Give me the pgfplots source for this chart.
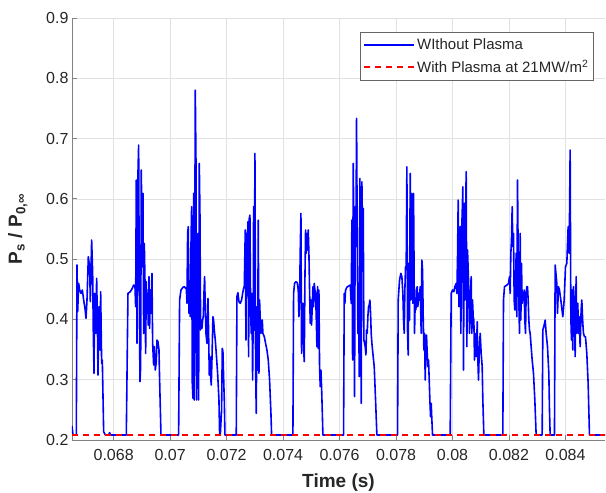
\documentclass[border=0pt]{standalone}
\usepackage{fontspec}
\setmainfont{Liberation Sans}
\usepackage{pgfplots}
\pgfplotsset{compat=1.18}
\definecolor{tickgray}{RGB}{38,38,38}
\definecolor{gridgray}{RGB}{225,225,225}
\definecolor{axgray}{RGB}{130,130,130}
\definecolor{mblue}{RGB}{0,0,255}
\definecolor{mred}{RGB}{255,0,0}
\begin{document}
\begin{tikzpicture}
\begin{axis}[
  width=533pt, height=422pt, scale only axis,
  xmin=0.066525, xmax=0.0854, ymin=0.2, ymax=0.9,
  axis x line*=bottom, axis y line*=left,
  xtick pos=left, ytick pos=left,
  tick align=inside, major tick length=5pt,
  axis line style={axgray, line width=0.8pt},
  tick style={axgray, line width=0.8pt},
  grid=major, grid style={gridgray, line width=0.6pt},
  scaled x ticks=false, scaled y ticks=false,
  xtick={0.068,0.070,0.072,0.074,0.076,0.078,0.080,0.082,0.084},
  xticklabels={0.068,0.07,0.072,0.074,0.076,0.078,0.08,0.082,0.084},
  ytick={0.2,0.3,0.4,0.5,0.6,0.7,0.8,0.9},
  yticklabels={0.2,0.3,0.4,0.5,0.6,0.7,0.8,0.9},
  tick label style={text=tickgray, font=\fontsize{16}{19}\selectfont},
  xticklabel shift=6pt,
  xlabel={Time (s)},
  ylabel={P\textsubscript{s} / P\textsubscript{0,∞}},
  xlabel shift=6pt,
  ylabel shift=12pt,
  label style={text=tickgray, font=\bfseries\fontsize{19}{22}\selectfont},
  legend style={at={(0.979,0.967)}, anchor=north east, draw=black!60, line width=0.6pt, fill=white,
    font=\fontsize{15}{18}\selectfont, text=tickgray, inner xsep=3pt, inner ysep=2pt,
    nodes={inner ysep=4.5pt}},
  legend cell align=left,
  legend image code/.code={\draw[#1] (0pt,0pt) -- (50pt,0pt);},
]
\addplot[mblue, line width=1.6pt, line join=round] table {
0.066525 0.2232
0.066560 0.2083
0.066678 0.2083
0.066702 0.4902
0.066726 0.4128
0.066761 0.4598
0.066796 0.4488
0.066844 0.4432
0.066891 0.4488
0.066938 0.4322
0.066985 0.4184
0.067021 0.4018
0.067056 0.4322
0.067103 0.5040
0.067150 0.4874
0.067174 0.4294
0.067221 0.5317
0.067257 0.4764
0.067280 0.3769
0.067304 0.3106
0.067327 0.4432
0.067363 0.3769
0.067398 0.4681
0.067422 0.4045
0.067445 0.3078
0.067481 0.4211
0.067516 0.3493
0.067540 0.4460
0.067575 0.3271
0.067599 0.3327
0.067646 0.2138
0.067705 0.2083
0.067823 0.2083
0.067858 0.2122
0.067882 0.2083
0.068448 0.2083
0.068507 0.4432
0.068590 0.4460
0.068661 0.4515
0.068708 0.4570
0.068755 0.4554
0.068779 0.4211
0.068802 0.6312
0.068826 0.3603
0.068850 0.6201
0.068885 0.6892
0.068909 0.4322
0.068932 0.2967
0.068956 0.3216
0.068979 0.6478
0.069015 0.4874
0.069038 0.6091
0.069062 0.3769
0.069086 0.5261
0.069109 0.4653
0.069133 0.3437
0.069156 0.4626
0.069180 0.4101
0.069204 0.4432
0.069227 0.3907
0.069251 0.4709
0.069274 0.3852
0.069298 0.4488
0.069322 0.4101
0.069357 0.4764
0.069381 0.3603
0.069416 0.3244
0.069440 0.3548
0.069475 0.3161
0.069510 0.3299
0.069534 0.3658
0.069569 0.3631
0.069605 0.3493
0.069628 0.2995
0.069676 0.2083
0.070301 0.2083
0.070336 0.4322
0.070384 0.4488
0.070454 0.4532
0.070502 0.4543
0.070549 0.4515
0.070572 0.4532
0.070596 0.4267
0.070620 0.5427
0.070643 0.5538
0.070667 0.4101
0.070690 0.4488
0.070714 0.4045
0.070738 0.5206
0.070761 0.5870
0.070785 0.2940
0.070808 0.2691
0.070832 0.6091
0.070856 0.2663
0.070891 0.7804
0.070915 0.6643
0.070938 0.2663
0.070962 0.4156
0.070985 0.5427
0.071009 0.2663
0.071033 0.6588
0.071056 0.5759
0.071080 0.3824
0.071103 0.3990
0.071127 0.3852
0.071151 0.3990
0.071174 0.4045
0.071198 0.4432
0.071221 0.4709
0.071245 0.4211
0.071269 0.3769
0.071304 0.3603
0.071339 0.4349
0.071363 0.3769
0.071387 0.3078
0.071410 0.3382
0.071434 0.3050
0.071457 0.2912
0.071481 0.3327
0.071516 0.4045
0.071540 0.3990
0.071564 0.3824
0.071599 0.3658
0.071634 0.3437
0.071682 0.3106
0.071729 0.2663
0.071752 0.2111
0.071776 0.2083
0.071823 0.2498
0.071847 0.3520
0.071870 0.3465
0.071894 0.3050
0.071918 0.2663
0.071941 0.2083
0.072342 0.2083
0.072366 0.4377
0.072401 0.4443
0.072437 0.4294
0.072484 0.4267
0.072531 0.4322
0.072578 0.4460
0.072602 0.4515
0.072626 0.4543
0.072661 0.5483
0.072685 0.3658
0.072708 0.5427
0.072732 0.4930
0.072755 0.5621
0.072779 0.3382
0.072803 0.5676
0.072826 0.5731
0.072850 0.4156
0.072873 0.3769
0.072897 0.4432
0.072921 0.2995
0.072944 0.4156
0.072956 0.5870
0.072980 0.3824
0.073003 0.6754
0.073027 0.3216
0.073050 0.2442
0.073074 0.4211
0.073098 0.3161
0.073121 0.5648
0.073145 0.3106
0.073168 0.4322
0.073192 0.3990
0.073216 0.3769
0.073239 0.3935
0.073263 0.3990
0.073286 0.3769
0.073334 0.3714
0.073381 0.3603
0.073428 0.3493
0.073475 0.3327
0.073522 0.2995
0.073570 0.2442
0.073593 0.2083
0.074348 0.2083
0.074372 0.4432
0.074407 0.4598
0.074455 0.4626
0.074502 0.4609
0.074537 0.4488
0.074561 0.4045
0.074584 0.4322
0.074608 0.5151
0.074632 0.5759
0.074655 0.3437
0.074679 0.4267
0.074702 0.4267
0.074726 0.3548
0.074750 0.3299
0.074773 0.4653
0.074797 0.5483
0.074820 0.5096
0.074844 0.5427
0.074868 0.5151
0.074891 0.5483
0.074915 0.5096
0.074938 0.4488
0.074962 0.3935
0.074986 0.4322
0.075009 0.3907
0.075033 0.4211
0.075056 0.4543
0.075080 0.4211
0.075104 0.4598
0.075127 0.4488
0.075151 0.4432
0.075174 0.4045
0.075198 0.3548
0.075222 0.4543
0.075245 0.3520
0.075269 0.4488
0.075292 0.3216
0.075316 0.2884
0.075340 0.3161
0.075363 0.2884
0.075387 0.2498
0.075410 0.2083
0.076142 0.2083
0.076166 0.4432
0.076189 0.4267
0.076213 0.4488
0.076260 0.4532
0.076319 0.4554
0.076378 0.4570
0.076413 0.4267
0.076437 0.5648
0.076461 0.3327
0.076484 0.6588
0.076508 0.5427
0.076531 0.2719
0.076555 0.5870
0.076579 0.5206
0.076602 0.7335
0.076626 0.5427
0.076649 0.3769
0.076673 0.4432
0.076697 0.3050
0.076720 0.6339
0.076744 0.4874
0.076767 0.2608
0.076791 0.6284
0.076815 0.5427
0.076838 0.5842
0.076862 0.3658
0.076885 0.3603
0.076909 0.3548
0.076933 0.3410
0.076956 0.3824
0.076980 0.3769
0.077003 0.4045
0.077027 0.4211
0.077051 0.4239
0.077074 0.4322
0.077098 0.4101
0.077121 0.3769
0.077145 0.3603
0.077180 0.3437
0.077228 0.3216
0.077275 0.2663
0.077322 0.2083
0.078054 0.2083
0.078077 0.4322
0.078124 0.4653
0.078172 0.4764
0.078207 0.4709
0.078242 0.4432
0.078266 0.3990
0.078290 0.3769
0.078313 0.4488
0.078337 0.4874
0.078360 0.4874
0.078384 0.6533
0.078408 0.3769
0.078431 0.3410
0.078455 0.4930
0.078478 0.3990
0.078502 0.6422
0.078526 0.4322
0.078549 0.6091
0.078573 0.4819
0.078596 0.4267
0.078620 0.6091
0.078655 0.3769
0.078679 0.4322
0.078703 0.4156
0.078726 0.4488
0.078750 0.4543
0.078773 0.4211
0.078797 0.4432
0.078821 0.4322
0.078856 0.4543
0.078891 0.3769
0.078915 0.4985
0.078939 0.4819
0.078962 0.4045
0.078986 0.3493
0.079009 0.3769
0.079033 0.2995
0.079057 0.3548
0.079080 0.3741
0.079104 0.3437
0.079127 0.3216
0.079151 0.3327
0.079175 0.2995
0.079198 0.2663
0.079222 0.2387
0.079245 0.2608
0.079269 0.2332
0.079293 0.2083
0.079918 0.2083
0.079953 0.4432
0.080001 0.4488
0.080048 0.4460
0.080083 0.4543
0.080130 0.4598
0.080154 0.4432
0.080178 0.5040
0.080201 0.5980
0.080225 0.4211
0.080248 0.4985
0.080272 0.5538
0.080296 0.3769
0.080319 0.5427
0.080343 0.5759
0.080366 0.6201
0.080390 0.3161
0.080414 0.5925
0.080437 0.4322
0.080461 0.5593
0.080484 0.6450
0.080508 0.3548
0.080532 0.5151
0.080567 0.4653
0.080602 0.3769
0.080626 0.4322
0.080661 0.4709
0.080685 0.3769
0.080709 0.4322
0.080732 0.4045
0.080756 0.3990
0.080779 0.3327
0.080803 0.3769
0.080827 0.3548
0.080850 0.3382
0.080874 0.3962
0.080897 0.3327
0.080921 0.2995
0.080945 0.3437
0.080980 0.3769
0.081015 0.3437
0.081051 0.3216
0.081074 0.2663
0.081110 0.2083
0.081782 0.2083
0.081806 0.4322
0.081841 0.4543
0.081877 0.4554
0.081924 0.4570
0.081983 0.4598
0.082018 0.4709
0.082042 0.4432
0.082066 0.5096
0.082089 0.5317
0.082113 0.5870
0.082136 0.5206
0.082160 0.5427
0.082184 0.4322
0.082207 0.4156
0.082231 0.4598
0.082254 0.5096
0.082278 0.4045
0.082302 0.6312
0.082325 0.5096
0.082349 0.4322
0.082372 0.3769
0.082396 0.5427
0.082420 0.3990
0.082443 0.4930
0.082467 0.4267
0.082490 0.4432
0.082514 0.4322
0.082538 0.4488
0.082561 0.3990
0.082585 0.3769
0.082608 0.4432
0.082632 0.4543
0.082656 0.4543
0.082679 0.4322
0.082703 0.3990
0.082726 0.3824
0.082750 0.3769
0.082785 0.3548
0.082821 0.3327
0.082868 0.3106
0.082915 0.2663
0.082962 0.2083
0.083175 0.2083
0.083198 0.3824
0.083246 0.3907
0.083281 0.3990
0.083316 0.3769
0.083364 0.3548
0.083411 0.3106
0.083434 0.2498
0.083458 0.2083
0.083611 0.2083
0.083635 0.4902
0.083694 0.4598
0.083718 0.4101
0.083753 0.4543
0.083788 0.4488
0.083836 0.4322
0.083906 0.4045
0.083954 0.4322
0.084001 0.4874
0.084048 0.4930
0.084095 0.5538
0.084131 0.5096
0.084166 0.6810
0.084190 0.4045
0.084213 0.3658
0.084237 0.4488
0.084260 0.3493
0.084284 0.4543
0.084308 0.4322
0.084343 0.3382
0.084378 0.4709
0.084402 0.3769
0.084437 0.4267
0.084461 0.3769
0.084485 0.4045
0.084520 0.3548
0.084555 0.4156
0.084579 0.4322
0.084614 0.3935
0.084638 0.3769
0.084673 0.3714
0.084709 0.3714
0.084756 0.3437
0.084803 0.2940
0.084850 0.2083
0.085400 0.2083
};
\addlegendentry{WIthout Plasma}
\addplot[mred, line width=1.4pt, dash pattern=on 6pt off 5pt] coordinates {(0.066525,0.2083) (0.0854,0.2083)};
\addlegendentry{With Plasma at 21MW/m\textsuperscript{2}}
\end{axis}
\pgfresetboundingbox
\path ([shift={(-72pt,-53pt)}]current axis.south west) rectangle ([shift={(1pt,18pt)}]current axis.north east);
\end{tikzpicture}
\end{document}
